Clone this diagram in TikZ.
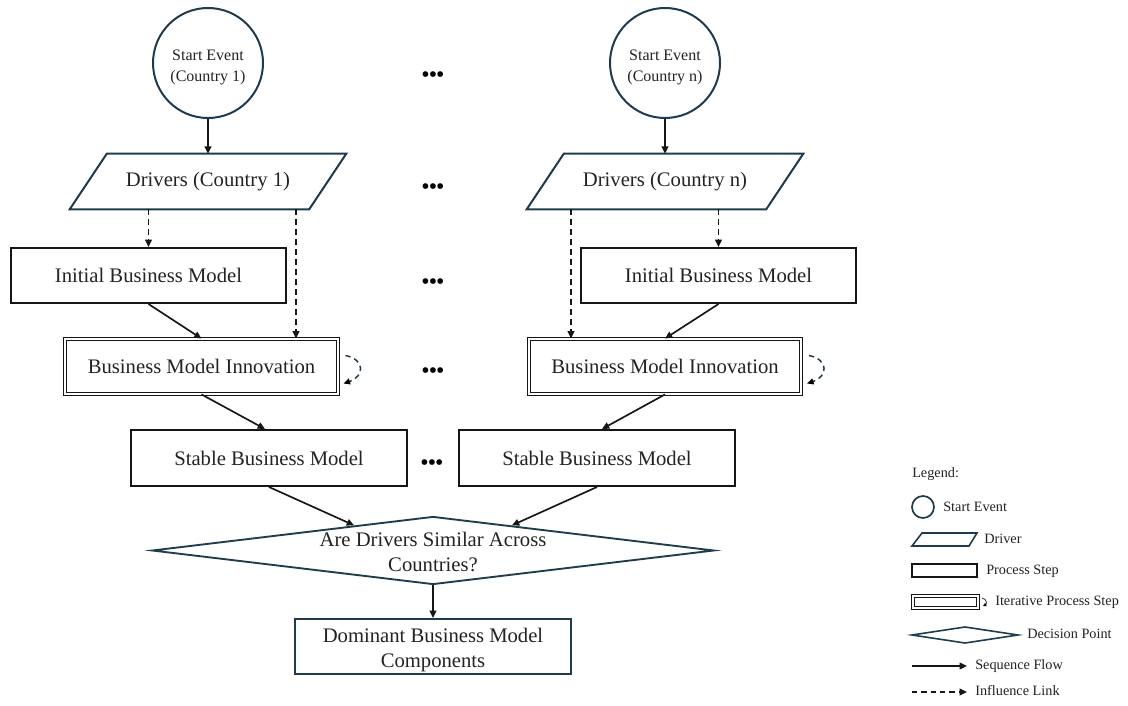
\documentclass[tikz,border=0pt]{standalone}
\usepackage{fontspec}
\setmainfont{Liberation Serif}
\usetikzlibrary{arrows.meta,calc,shapes.geometric}

\definecolor{edge}{RGB}{30,60,78}
\definecolor{ink}{RGB}{22,22,22}
\definecolor{txt}{RGB}{35,35,35}

\newcommand\mainfs{\fontsize{15.5}{18.75}\selectfont}
\newcommand\smallfs{\fontsize{12}{15.75}\selectfont}
\newcommand\legfs{\fontsize{10.7}{12.5}\selectfont}

\tikzset{
  x=0.75pt, y=-0.75pt,
  every node/.style={text=txt},
  tip/.style={-{Triangle[length=5.5pt,width=5pt]}},
  seqflow/.style={draw=ink, line width=1.25pt, tip},
  influence/.style={seqflow, dash pattern=on 4.5pt off 3pt},
  startev/.style={circle, draw=edge, line width=1.5pt, minimum size=82.5pt,
                  inner sep=0pt},
  startlbl/.style={align=center, font=\smallfs, inner sep=0pt},
  procbox/.style={rectangle, draw=ink, line width=1.5pt, minimum width=206pt,
                  minimum height=41.25pt, font=\mainfs},
  iterbox/.style={rectangle, draw=ink, line width=0.9pt, double=white,
                  double distance=1.4pt, minimum width=204.5pt,
                  minimum height=41pt, font=\mainfs},
  drvholder/.style={rectangle, minimum width=207pt, minimum height=41.25pt,
                    inner sep=0pt, font=\mainfs},
  paraline/.style={draw=edge, line width=1.5pt, line join=miter},
  decision/.style={diamond, draw=edge, line width=1.4pt, minimum width=421.5pt,
                   minimum height=51pt, inner sep=0pt},
  resultbox/.style={rectangle, draw=edge, line width=1.5pt, minimum width=207pt,
                    minimum height=41.25pt},
  twoline/.style={align=center, font=\mainfs, inner sep=0pt},
  ellip/.style={font=\fontsize{15.75}{18}\selectfont\bfseries, text=black, inner sep=0pt},
  selfloop/.style={draw=edge, line width=1.1pt, dash pattern=on 4pt off 3pt,
                   -{Triangle[length=5pt,width=4.5pt,color=black]}},
  legtext/.style={anchor=west, font=\legfs, inner sep=0pt},
}

\begin{document}
\begin{tikzpicture}
\fill[white] (0,0) rectangle (1128,706);
\useasboundingbox (0,0) rectangle (1128,706);

% ---- column for country 1 ----
\node[startev] (c1) at (208,63) {};
\node[startlbl] (c1t) at (208,67) {Start Event\\(Country 1)};
\node[drvholder] (drv1) at (208,181.5) {\raisebox{-2pt}{Drivers (Country 1)}};
\draw[paraline] (drv1.south west) -- ($(drv1.north west)+(37,0)$)
  -- (drv1.north east) -- ($(drv1.south east)+(-37,0)$) -- cycle;
\node[procbox] (init1) at (148.5,275.5) {Initial Business Model};
\node[iterbox] (bmi1) at (201.5,366.5) {Business Model Innovation};
\node[procbox, minimum width=207pt, minimum height=42pt] (stab1) at (269,458) {Stable Business Model};

% ---- column for country n ----
\node[startev] (cn) at (665,63) {};
\node[startlbl] (cnt) at (665,67) {Start Event\\(Country n)};
\node[drvholder] (drvn) at (665,181.5) {\raisebox{-2pt}{Drivers (Country n)}};
\draw[paraline] (drvn.south west) -- ($(drvn.north west)+(37,0)$)
  -- (drvn.north east) -- ($(drvn.south east)+(-37,0)$) -- cycle;
\node[procbox] (initn) at (718.5,275.5) {Initial Business Model};
\node[iterbox] (bmin) at (665,366.5) {Business Model Innovation};
\node[procbox, minimum width=207pt, minimum height=42pt] (stabn) at (597,458) {Stable Business Model};

% ---- ellipses between the columns ----
\node[ellip] (e1) at (433,77) {•••};
\node[ellip] (e2) at (433,189) {•••};
\node[ellip] (e3) at (433,284) {•••};
\node[ellip] (e4) at (433,373) {•••};
\node[ellip] (e5) at (432,465) {•••};

% ---- decision and result ----
\node[decision] (dec) at (433,550.5) {};
\node[twoline] (dectext) at (433,552) {Are Drivers Similar Across\\Countries?};
\node[resultbox] (dom) at (433,646.5) {};
\node[twoline] (domtext) at (433,650) {Dominant Business Model\\Components};

% ---- sequence flows ----
\draw[seqflow] (c1) -- (drv1.north);
\draw[seqflow] (cn) -- (drvn.north);
\draw[seqflow] (init1.south) -- (bmi1.north);
\draw[seqflow] (initn.south) -- (bmin.north);
\draw[seqflow] (bmi1.south) -- ($(stab1.north)+(-4,0)$);
\draw[seqflow] (bmin.south) -- ($(stabn.north)+(5,0)$);
\draw[seqflow] (stab1.south) -- ($(dec.west)!0.72!(dec.north)$);
\draw[seqflow] (stabn.south) -- ($(dec.east)!0.72!(dec.north)$);
\draw[seqflow] (dec.south) -- (dom.north);

% ---- influence links ----
\coordinate (t1) at ($(drv1.south)+(88,0)$);
\coordinate (tn) at ($(drvn.south)+(-94,0)$);
\draw[influence] (drv1.south -| init1.north) -- (init1.north);
\draw[influence] (t1) -- (t1 |- bmi1.north);
\draw[influence] (drvn.south -| initn.north) -- (initn.north);
\draw[influence] (tn) -- (tn |- bmin.north);

% ---- iteration loops ----
\draw[selfloop] ($(bmi1.east)+(7,-11)$) .. controls ($(bmi1.east)+(27,-7)$) and ($(bmi1.east)+(26,10)$) .. ($(bmi1.east)+(5,17)$);
\draw[selfloop] ($(bmin.east)+(7,-11)$) .. controls ($(bmin.east)+(27,-7)$) and ($(bmin.east)+(26,10)$) .. ($(bmin.east)+(5,17)$);

% ---- legend ----
\node[legtext] (lg) at (912,474) {Legend:};
\draw[edge, line width=1.3pt] (923,507) circle (8.25pt);
\node[legtext] (lg1) at (943,507) {Start Event};
\draw[paraline, line width=1.2pt] (912,546) -- (922,533) -- (977,533) -- (969,546) -- cycle;
\node[legtext] (lg2) at (984,539) {Driver};
\draw[ink, line width=1.3pt] (912,564) rectangle (977,577);
\node[legtext] (lg3) at (986,571) {Process Step};
\draw[ink, line width=0.7pt, double=white, double distance=1.1pt] (913,596) rectangle (978,608);
\draw[edge, line width=0.6pt, -{Triangle[length=2.5pt,width=2.5pt,color=black]}] (982,598) .. controls (987,599) and (987,604) .. (983,606);
\node[legtext] (lg4) at (995,602) {Iterative Process Step};
\draw[edge, line width=1.2pt] (912,635) -- (965,627) -- (1018,635) -- (965,643) -- cycle;
\node[legtext] (lg5) at (1027,634) {Decision Point};
\draw[seqflow, line width=1pt] (912,666) -- (967,666);
\node[legtext] (lg6) at (975,666) {Sequence Flow};
\draw[influence, line width=1pt, dash pattern=on 4pt off 3pt] (912,692) -- (967,692);
\node[legtext] (lg7) at (975,691) {Influence Link};
\end{tikzpicture}
\end{document}
